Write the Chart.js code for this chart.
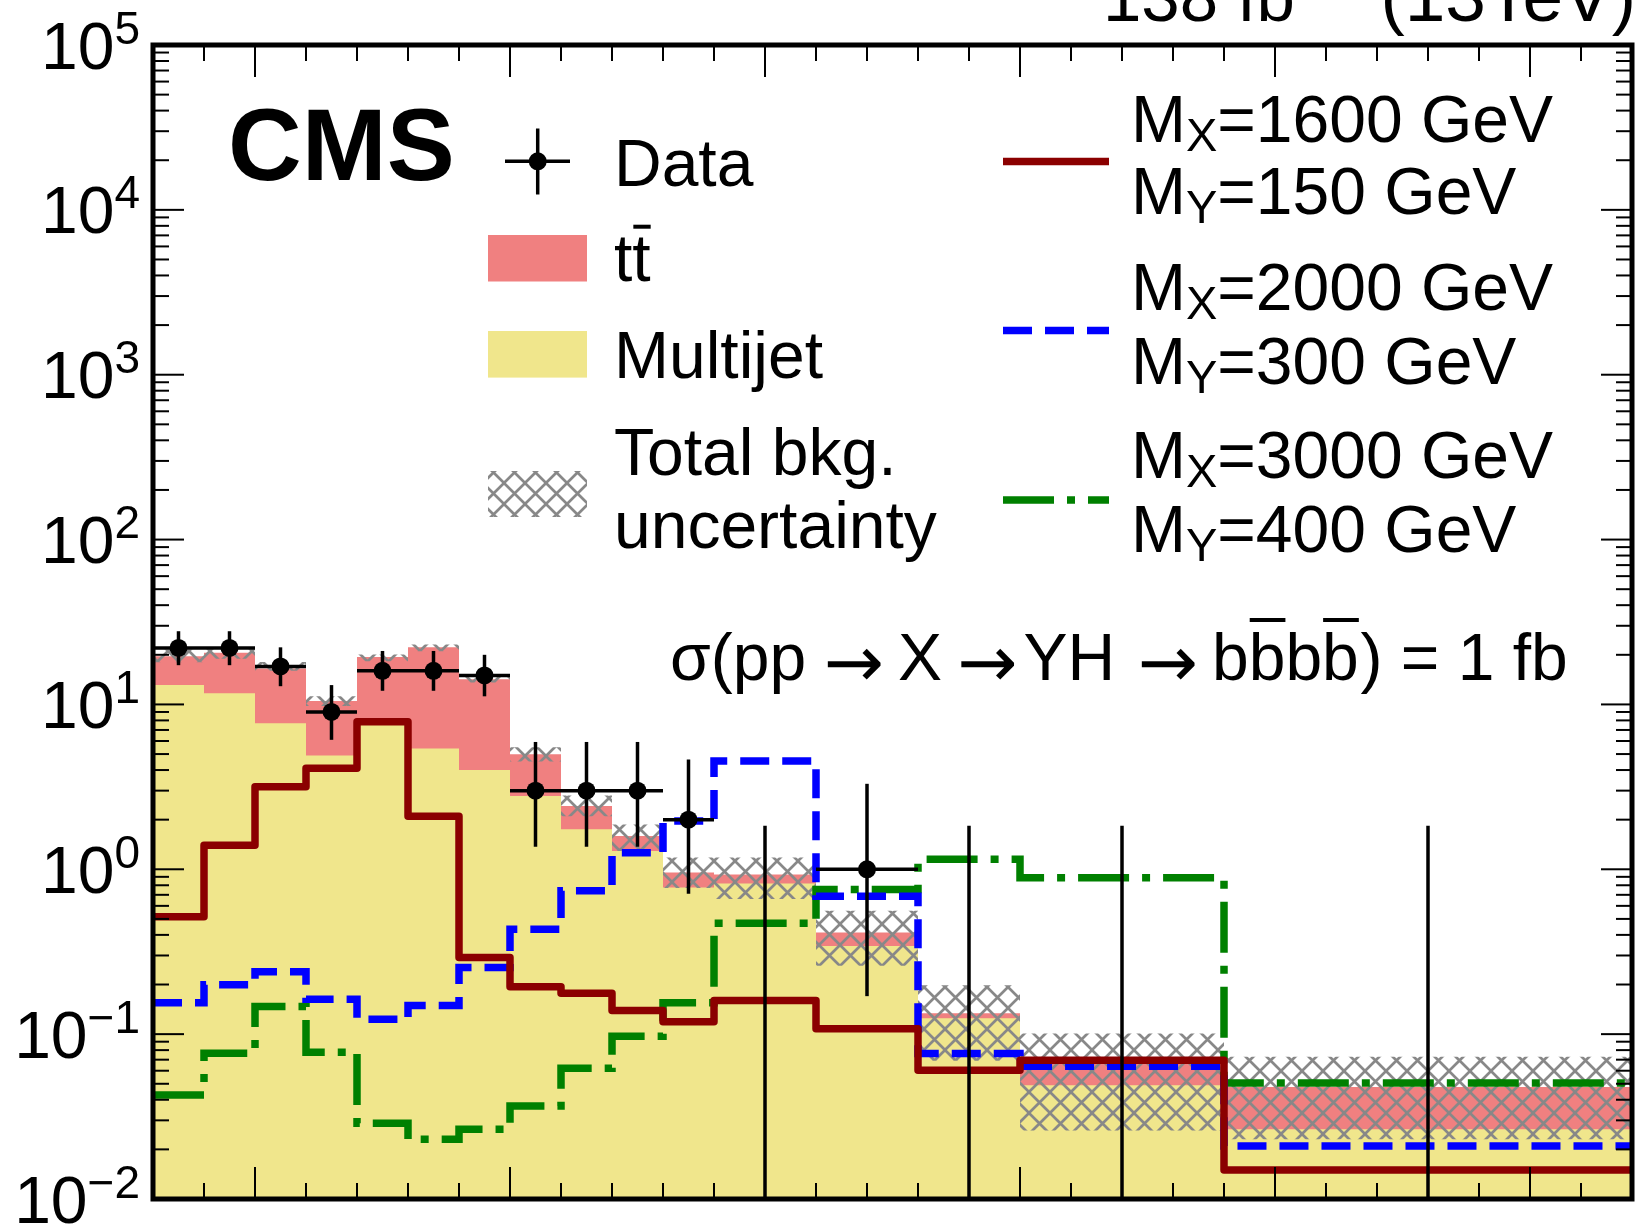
<!DOCTYPE html>
<html>
<head>
<meta charset="utf-8">
<script src="https://cdn.jsdelivr.net/npm/chart.js@4.4.1/dist/chart.umd.min.js"></script>
<style>
  html, body { margin: 0; padding: 0; background: #fff; }
  #wrap { width: 1641px; height: 1225px; }
</style>
</head>
<body>
<div id="wrap"><canvas id="chart" width="1641" height="1225"></canvas></div>
<script>
// bin edges, in axis units (the x axis carries no labels)
const binEdges = [0, 1, 2, 3, 4, 5, 6, 7, 8, 9, 10, 11, 13, 15, 17, 21, 29];

// backgrounds (stacked: multijet at the bottom, ttbar on top)
const multijet = [13.1, 11.7, 7.7, 4.9, 7.5, 5.4, 4.0, 2.78, 1.75, 1.29, 0.775, 0.82, 0.343, 0.125, 0.049, 0.0265];
const ttbar = [6.5, 8.9, 8.8, 5.6, 11.9, 16.8, 10.2, 2.2, 0.67, 0.3, 0.18, 0.11, 0.07, 0.009, 0.0177, 0.0213];
const uncLow = [18.0, 18.9, 16.0, 9.8, 18.3, 21.0, 13.6, 4.5, 2.1, 1.29, 0.77, 0.66, 0.26, 0.069, 0.026, 0.023];
const uncHigh = [21.5, 21.6, 18.1, 11.2, 20.1, 23.1, 14.8, 5.5, 2.8, 1.87, 1.18, 1.18, 0.56, 0.198, 0.101, 0.073];

// observed data with error bar ends
const dataCounts = [22, 22, 17, 9, 16, 16, 15, 3, 3, 3, 2, 0, 1, 0, 0, 0];
const dataLow = [17.3, 17.3, 12.9, 6.1, 12.1, 12.1, 11.2, 1.37, 1.37, 1.37, 0.71, 0, 0.17, 0, 0, 0];
const dataHigh = [27.8, 27.8, 22.2, 13.1, 21.1, 21.1, 20.0, 5.92, 5.92, 5.92, 4.64, 1.84, 3.3, 1.84, 1.84, 1.84];

// signals, sigma = 1 fb
const sigM1600 = [0.515, 1.4, 3.17, 4.1, 7.86, 2.1, 0.292, 0.194, 0.177, 0.139, 0.119, 0.16, 0.108, 0.0603, 0.0694, 0.015];
const sigM2000 = [0.155, 0.199, 0.239, 0.163, 0.123, 0.149, 0.254, 0.433, 0.74, 1.26, 1.96, 4.53, 0.685, 0.0762, 0.0638, 0.021];
const sigM3000 = [0.0427, 0.0765, 0.147, 0.0776, 0.0288, 0.023, 0.0265, 0.0366, 0.062, 0.097, 0.155, 0.47, 0.755, 1.15, 0.888, 0.0505];

const yDecades = [-2, -1, 0, 1, 2, 3, 4, 5];
const bkgLabels = ["Data", "tt", "Multijet", "Total bkg.", "uncertainty"];
const sigMX = ["1600", "2000", "3000"];
const sigMY = ["150", "300", "400"];

const FONT = '"Liberation Sans", Arial, Helvetica, sans-serif';
const RED_SIG = "#8b0000";
const BLUE_SIG = "#0000ff";
const GREEN_SIG = "#008000";
const BLUE_DASH = [29, 13];
const GREEN_DASH = [51, 13, 8, 13];

const canvas = document.getElementById("chart");
const ctx = canvas.getContext("2d");

function makeHatch() {
  const size = 21;
  const tile = document.createElement("canvas");
  tile.width = size;
  tile.height = size;
  const c = tile.getContext("2d");
  c.strokeStyle = "#888888";
  c.lineWidth = 2.7;
  for (let k = -1; k <= 1; k++) {
    c.beginPath();
    c.moveTo(k * size, 0);
    c.lineTo(k * size + size, size);
    c.moveTo(k * size + size, 0);
    c.lineTo(k * size, size);
    c.stroke();
  }
  return ctx.createPattern(tile, "repeat");
}
const hatch = makeHatch();

function stepPoints(values) {
  const pts = values.map((v, i) => ({ x: binEdges[i], y: v }));
  pts.push({ x: binEdges[binEdges.length - 1], y: values[values.length - 1] });
  return pts;
}

const total = multijet.map((v, i) => v + ttbar[i]);
const dataPoints = [];
dataCounts.forEach((n, i) => {
  if (n > 0) dataPoints.push({ x: (binEdges[i] + binEdges[i + 1]) / 2, y: n });
});

function font(size, bold, family) {
  return `${bold ? "bold " : ""}${size}px ${family || FONT}`;
}

function drawRuns(c, x, y, runs) {
  runs.forEach((r) => {
    c.font = font(r.size || 66, r.bold);
    const w = c.measureText(r.text).width;
    c.fillText(r.text, x, y + (r.dy || 0));
    if (r.over) c.fillRect(x + 1, y - r.over - 2, w - 1, 4);
    x += w;
  });
  return x;
}

function runsWidth(c, runs) {
  let w = 0;
  runs.forEach((r) => {
    c.font = font(r.size || 66, r.bold);
    w += c.measureText(r.text).width;
  });
  return w;
}

function line(c, x1, y1, x2, y2) {
  c.beginPath();
  c.moveTo(x1, y1);
  c.lineTo(x2, y2);
  c.stroke();
}

// data error bars, drawn just before the data points
const errorBars = {
  id: "errorBars",
  beforeDatasetDraw(chart, args) {
    if (args.index !== 0) return;
    const { x, y } = chart.scales;
    const c = chart.ctx;
    c.save();
    c.strokeStyle = "#000";
    c.lineWidth = 3.5;
    dataCounts.forEach((n, i) => {
      const xc = x.getPixelForValue((binEdges[i] + binEdges[i + 1]) / 2);
      const top = y.getPixelForValue(dataHigh[i]);
      if (n > 0) {
        line(c, xc, y.getPixelForValue(dataLow[i]), xc, top);
        const yv = y.getPixelForValue(n);
        line(c, x.getPixelForValue(binEdges[i]), yv, x.getPixelForValue(binEdges[i + 1]), yv);
      } else {
        line(c, xc, chart.chartArea.bottom, xc, top);
      }
    });
    c.restore();
  },
};

const decorations = {
  id: "decorations",
  afterDraw(chart) {
    const c = chart.ctx;
    const { x, y } = chart.scales;
    const a = chart.chartArea;
    c.save();
    c.fillStyle = "#000";
    c.strokeStyle = "#000";
    c.textBaseline = "alphabetic";
    c.textAlign = "left";

    // frame
    c.lineWidth = 5;
    c.strokeRect(a.left, a.top, a.right - a.left, a.bottom - a.top);

    // y ticks, both sides
    c.lineWidth = 2;
    for (let k = yDecades[0]; k < yDecades[yDecades.length - 1]; k++) {
      for (let m = 1; m < 10; m++) {
        const py = y.getPixelForValue(m * 10 ** k);
        const len = m === 1 ? 31 : 16;
        line(c, a.left, py, a.left + len, py);
        line(c, a.right, py, a.right - len, py);
      }
    }
    // x ticks, top and bottom
    for (let u = 1; u < 29; u++) {
      const px = x.getPixelForValue(u);
      const len = u % 5 === 2 ? 32 : 16;
      line(c, px, a.top, px, a.top + len);
      line(c, px, a.bottom, px, a.bottom - len);
    }

    // y tick labels 10^k
    yDecades.forEach((k) => {
      const py = y.getPixelForValue(10 ** k);
      const runs = [
        { text: "10", size: 66 },
        { text: k < 0 ? "\u2212" + -k : String(k), size: 46, dy: -25 },
      ];
      drawRuns(c, 140 - runsWidth(c, runs), py + 23.5, runs);
    });

    // CMS and lumi
    c.font = font(102, true);
    c.fillText("CMS", 228, 180);
    drawRuns(c, 1103, 21, [
      { text: "138 fb", size: 69 },
      { text: "\u22121", size: 48, dy: -28 },
    ]);
    const lumiEnd = [{ text: "(13TeV)", size: 73 }];
    drawRuns(c, 1636 - runsWidth(c, lumiEnd), 21, lumiEnd);

    // left legend
    c.lineWidth = 3.5;
    line(c, 537.7, 128.5, 537.7, 194.5);
    line(c, 505, 161.3, 570, 161.3);
    c.beginPath();
    c.arc(537.7, 161.3, 9, 0, Math.PI * 2);
    c.fill();
    c.fillStyle = "#f08080";
    c.fillRect(488, 235, 99, 46.5);
    c.fillStyle = "#f0e68c";
    c.fillRect(488, 331, 99, 46.6);
    c.fillStyle = hatch;
    c.fillRect(488, 471, 99, 46);
    c.fillStyle = "#000";
    drawRuns(c, 614, 186, [{ text: bkgLabels[0] }]);
    drawRuns(c, 614, 280.7, [{ text: bkgLabels[1][0] }, { text: bkgLabels[1][1], over: 54 }]);
    drawRuns(c, 614, 377.6, [{ text: bkgLabels[2] }]);
    drawRuns(c, 614, 474.5, [{ text: bkgLabels[3] }]);
    drawRuns(c, 614, 547.6, [{ text: bkgLabels[4] }]);

    // right legend
    const sigStyles = [
      { color: RED_SIG, dash: [], y: 161.6 },
      { color: BLUE_SIG, dash: BLUE_DASH, y: 330.6 },
      { color: GREEN_SIG, dash: GREEN_DASH, y: 500 },
    ];
    const textBase = [[142, 213.5], [310, 383.5], [478, 551.6]];
    sigStyles.forEach((s, i) => {
      c.strokeStyle = s.color;
      c.lineWidth = 7.5;
      c.setLineDash(s.dash);
      line(c, 1003, s.y, 1109, s.y);
      c.setLineDash([]);
      drawRuns(c, 1131, textBase[i][0], [
        { text: "M" },
        { text: "X", size: 47, dy: 9 },
        { text: "=" + sigMX[i] + " GeV" },
      ]);
      drawRuns(c, 1131, textBase[i][1], [
        { text: "M" },
        { text: "Y", size: 47, dy: 9 },
        { text: "=" + sigMY[i] + " GeV" },
      ]);
    });

    // signal cross section, pieces placed like the original latex
    drawRuns(c, 670, 680, [{ text: "\u03c3(pp" }]);
    drawRuns(c, 898, 680, [{ text: "X" }]);
    drawRuns(c, 1023.5, 680, [{ text: "YH" }]);
    drawRuns(c, 1212, 680, [
      { text: "b" },
      { text: "b", over: 60 },
      { text: "b" },
      { text: "b", over: 60 },
    ]);
    drawRuns(c, 1360.5, 680, [{ text: ") = 1 fb" }]);
    c.font = font(72, false, '"DejaVu Sans", sans-serif');
    c.textAlign = "center";
    [854, 987.5, 1168].forEach((ax) => c.fillText("\u2192", ax, 687));
    c.restore();
  },
};

const stepLine = (data, extra) =>
  Object.assign(
    {
      data: stepPoints(data),
      stepped: true,
      pointRadius: 0,
      borderWidth: 0,
      borderColor: "transparent",
      fill: false,
    },
    extra
  );

new Chart(ctx, {
  type: "line",
  data: {
    datasets: [
      {
        label: "Data",
        data: dataPoints,
        showLine: false,
        pointRadius: 9,
        pointBackgroundColor: "#000",
        pointBorderWidth: 0,
        order: 0,
      },
      stepLine(sigM1600, { label: "MX=1600", borderColor: RED_SIG, borderWidth: 7.5, borderJoinStyle: "round", order: 1 }),
      stepLine(sigM2000, { label: "MX=2000", borderColor: BLUE_SIG, borderWidth: 7.5, borderDash: BLUE_DASH, order: 2 }),
      stepLine(sigM3000, { label: "MX=3000", borderColor: GREEN_SIG, borderWidth: 7.5, borderDash: GREEN_DASH, order: 3 }),
      stepLine(uncHigh, { label: "unc", fill: "+1", backgroundColor: hatch, order: 4 }),
      stepLine(uncLow, { label: "unc low", order: 5 }),
      stepLine(multijet, { label: "Multijet", fill: "start", backgroundColor: "#f0e68c", order: 6 }),
      stepLine(total, { label: "ttbar", fill: "start", backgroundColor: "#f08080", order: 7 }),
    ],
  },
  options: {
    responsive: false,
    animation: false,
    devicePixelRatio: 1,
    events: [],
    layout: { padding: { left: 153, right: 2, top: 45, bottom: 26 } },
    scales: {
      x: { type: "linear", min: 0, max: 29, display: false },
      y: { type: "logarithmic", min: 0.01, max: 100000, display: false },
    },
    plugins: {
      legend: { display: false },
      tooltip: { enabled: false },
    },
  },
  plugins: [errorBars, decorations],
});
</script>
</body>
</html>
